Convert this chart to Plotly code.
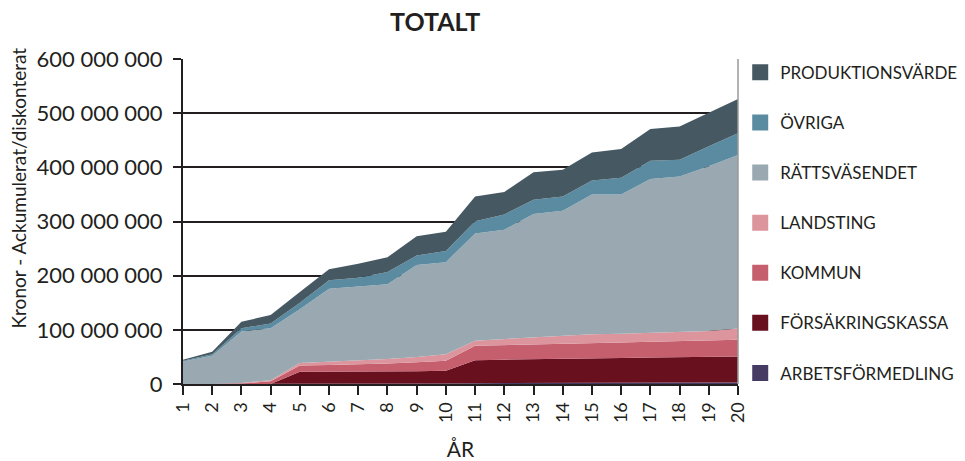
import plotly.graph_objects as go

years = list(range(1, 21))

# Values in kronor per category (stacked, accumulated / discounted)
arbetsformedling = [0, 0, 0, 0, 500000, 500000, 500000, 500000, 800000, 1000000,
                    1500000, 1500000, 1800000, 2000000, 2000000, 2200000, 2500000, 2500000, 2800000, 3000000]
forsakringskassa = [0, 0, 0, 0, 22200000, 22200000, 22500000, 22800000, 22700000, 23500000,
                    42500000, 43500000, 43600000, 44000000, 45000000, 45800000, 46500000, 47200000, 47500000, 48000000]
kommun = [0, 0, 1000000, 5000000, 11300000, 12300000, 13000000, 14700000, 16500000, 18500000,
          26500000, 27000000, 27600000, 28000000, 28500000, 28700000, 29000000, 29300000, 29700000, 30600000]
landsting = [0, 0, 1000000, 2000000, 4600000, 6000000, 7000000, 8000000, 10000000, 12000000,
             9500000, 11000000, 13000000, 15000000, 16500000, 16300000, 17000000, 17000000, 18000000, 21000000]
rattsvasendet = [41700000, 52000000, 95000000, 96000000, 99400000, 135000000, 136800000, 138000000, 169600000, 170000000,
                 198000000, 202000000, 228000000, 231000000, 257700000, 256700000, 283500000, 287000000, 304000000, 320400000]
ovriga = [1300000, 3000000, 6000000, 8700000, 12000000, 15400000, 16200000, 22700000, 17800000, 20400000,
          22600000, 28000000, 26000000, 26000000, 25800000, 31300000, 33500000, 31000000, 36700000, 40000000]
produktionsvarde = [2000000, 4500000, 11700000, 15900000, 20000000, 20300000, 26000000, 27300000, 35600000, 35600000,
                    45400000, 41600000, 50800000, 49700000, 52100000, 52700000, 59000000, 61500000, 62300000, 63000000]

series = [
    ("ARBETSFÖRMEDLING", arbetsformedling, "#463c63"),
    ("FÖRSÄKRINGSKASSA", forsakringskassa, "#69101f"),
    ("KOMMUN", kommun, "#c55f6e"),
    ("LANDSTING", landsting, "#dd959d"),
    ("RÄTTSVÄSENDET", rattsvasendet, "#9aa8b1"),
    ("ÖVRIGA", ovriga, "#5b8ba0"),
    ("PRODUKTIONSVÄRDE", produktionsvarde, "#465862"),
]

FONT = "Lato"
TXT = "#231f20"

fig = go.Figure()
for name, vals, col in series:
    fig.add_trace(go.Scatter(
        x=years, y=vals, name=name, stackgroup="one", mode="lines",
        line=dict(width=0, color=col), fillcolor=col, legendgroup=name,
        showlegend=False, hoverinfo="x+y+name",
    ))
# legend entries, top to bottom
for name, vals, col in reversed(series):
    fig.add_trace(go.Scatter(
        x=[None], y=[None], name=name, mode="markers", legendgroup=name,
        marker=dict(symbol="square", size=16, color=col), showlegend=True,
    ))

fig.update_layout(
    width=965, height=461,
    margin=dict(l=183, r=227, t=59, b=77, autoexpand=False),
    paper_bgcolor="white", plot_bgcolor="white",
    separators=", ",
    font=dict(family=FONT, color=TXT),
    title=dict(text="<b>TOTALT</b>", x=0.451, xanchor="center", y=0.952, yanchor="middle",
               font=dict(family=FONT, size=25, color=TXT)),
    legend=dict(x=1.004, xanchor="left", y=1.013, yanchor="top",
                traceorder="grouped", tracegroupgap=25, maxheight=1,
                font=dict(family=FONT, size=17, color=TXT),
                bgcolor="rgba(0,0,0,0)", itemsizing="trace"),
    showlegend=True,
)

fig.update_xaxes(
    range=[1, 20], tickmode="array", tickvals=years, ticktext=[str(y) for y in years],
    tickangle=-90, ticks="outside", ticklen=9, tickcolor=TXT, tickwidth=1.5,
    showline=True, linecolor=TXT, linewidth=2, showgrid=False, zeroline=False,
    tickfont=dict(family=FONT, size=18, color=TXT), automargin=False,
    title=dict(text="ÅR", font=dict(family=FONT, size=21, color=TXT), standoff=34),
)
fig.update_yaxes(
    range=[0, 600000000], dtick=100000000, tickformat=",d",
    ticks="outside", ticklen=8, tickcolor=TXT, tickwidth=1.5,
    showline=True, linecolor=TXT, linewidth=2,
    showgrid=True, gridcolor=TXT, gridwidth=1.5, zeroline=False,
    tickfont=dict(family=FONT, size=22, color=TXT), ticklabelstandoff=6, automargin=False,
)

fig.add_annotation(text="Kronor - Ackumulerat/diskonterat", xref="paper", yref="paper",
                   x=-0.2955, y=0.6046, xanchor="center", yanchor="middle", textangle=-90,
                   showarrow=False, font=dict(family=FONT, size=19, color=TXT))

fig.add_shape(type="line", xref="paper", yref="paper", x0=1, x1=1, y0=0, y1=1,
              line=dict(color="#9a9a9a", width=1.5), layer="above")

fig.write_html("out.html", config={"displayModeBar": False},
               post_script="document.body.style.margin='0';")
